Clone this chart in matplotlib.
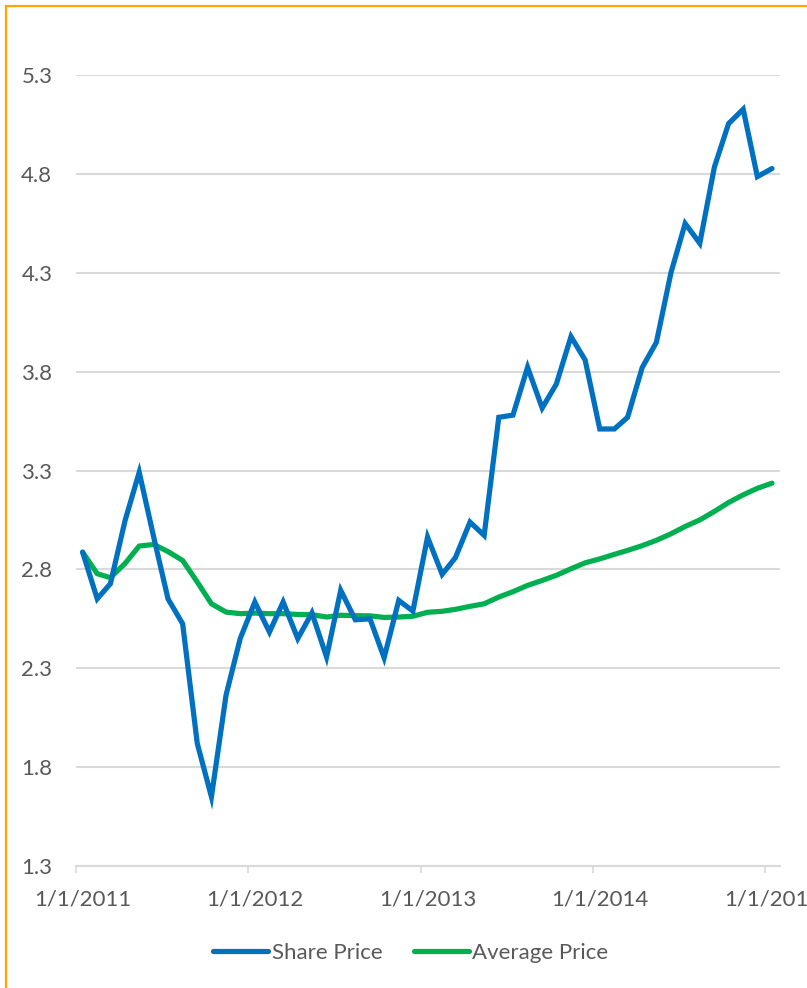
import matplotlib
matplotlib.use("Agg")
import matplotlib.pyplot as plt
import matplotlib.dates as mdates
import matplotlib.transforms as mtransforms
from matplotlib.patches import Rectangle
import pandas as pd

# monthly series, Jan 2011 .. Jan 2015
months = pd.date_range("2011-01-01", periods=49, freq="MS")

share_price = [
    2.887, 2.651, 2.728, 3.047, 3.291, 2.96, 2.651, 2.525, 1.92, 1.65, 2.164, 2.45,
    2.635, 2.483, 2.635, 2.45, 2.58, 2.357, 2.694, 2.545, 2.55, 2.353, 2.643, 2.589,
    2.963, 2.775, 2.859, 3.039, 2.972, 3.569, 3.58, 3.822, 3.616, 3.737, 3.977, 3.859,
    3.51, 3.51, 3.569, 3.821, 3.948, 4.301, 4.549, 4.449, 4.835, 5.054, 5.127, 4.786,
    4.827,
]

average_price = [
    2.887, 2.778, 2.758, 2.83, 2.918, 2.926, 2.89, 2.845, 2.736, 2.626, 2.584, 2.576,
    2.579, 2.576, 2.576, 2.572, 2.571, 2.559, 2.568, 2.566, 2.565, 2.557, 2.559, 2.563,
    2.583, 2.588, 2.598, 2.613, 2.626, 2.66, 2.687, 2.719, 2.744, 2.77, 2.803, 2.833,
    2.853, 2.876, 2.896, 2.92, 2.947, 2.98, 3.017, 3.05, 3.093, 3.138, 3.177, 3.21,
    3.236,
]

y_ticks = [1.3, 1.8, 2.3, 2.8, 3.3, 3.8, 4.3, 4.8, 5.3]
x_ticks = pd.to_datetime(["2011-01-01", "2012-01-01", "2013-01-01", "2014-01-01", "2015-01-01"])

BLUE = "#0070C0"
GREEN = "#00B050"
GRID = "#D9D9D9"
TEXT = "#595959"

plt.rcParams["font.family"] = ["Lato", "DejaVu Sans"]

fig = plt.figure(figsize=(8.07, 9.88), dpi=100)
ax = fig.add_axes([76 / 807, 122 / 988, 704 / 807, 791 / 988])

# points sit between the month ticks (Excel date axis style)
x = months + pd.Timedelta(days=14)
ax.plot(x, share_price, color=BLUE, lw=3.75, solid_joinstyle="miter",
        solid_capstyle="round", label="Share Price", zorder=3)
ax.plot(x, average_price, color=GREEN, lw=3.75, solid_joinstyle="round",
        solid_capstyle="round", label="Average Price", zorder=2)

ax.set_xlim(pd.Timestamp("2011-01-01"), pd.Timestamp("2015-02-01"))
ax.set_ylim(1.3, 5.3)
ax.set_yticks(y_ticks)
ax.set_yticklabels([f"{v:.1f}" for v in y_ticks])
ax.set_xticks(x_ticks)
ax.xaxis.set_major_formatter(mdates.DateFormatter("%-m/%-d/%Y"))

ax.grid(axis="y", color=GRID, lw=1.5, zorder=0)
ax.set_axisbelow(True)
for side in ["top", "right", "left"]:
    ax.spines[side].set_visible(False)
ax.spines["bottom"].set_color(GRID)
ax.spines["bottom"].set_linewidth(1.5)

ax.tick_params(axis="y", length=0, pad=17, labelsize=16, labelcolor=TEXT)
ax.tick_params(axis="x", length=5, width=1.2, color=GRID, pad=12,
               labelsize=16, labelcolor=TEXT)

shift = mtransforms.ScaledTranslation(7 / 100, 0, fig.dpi_scale_trans)
for lbl in ax.get_xticklabels():
    lbl.set_transform(lbl.get_transform() + shift)

fig.legend(loc="center", bbox_to_anchor=(0.509, 1 - 953 / 988), ncol=2,
           frameon=False, fontsize=16, labelcolor=TEXT, handlelength=2.5,
           handletextpad=0.15, columnspacing=1.4)

# orange frame of the original chart object (cropped on right and bottom)
fig.patches.append(Rectangle((5.5 / 807, -0.1), 1.2, 1.1 - 6 / 988,
                             transform=fig.transFigure, fill=False,
                             edgecolor="#FFA500", lw=1.6))

fig.savefig("out.png", dpi=100, facecolor="white")
